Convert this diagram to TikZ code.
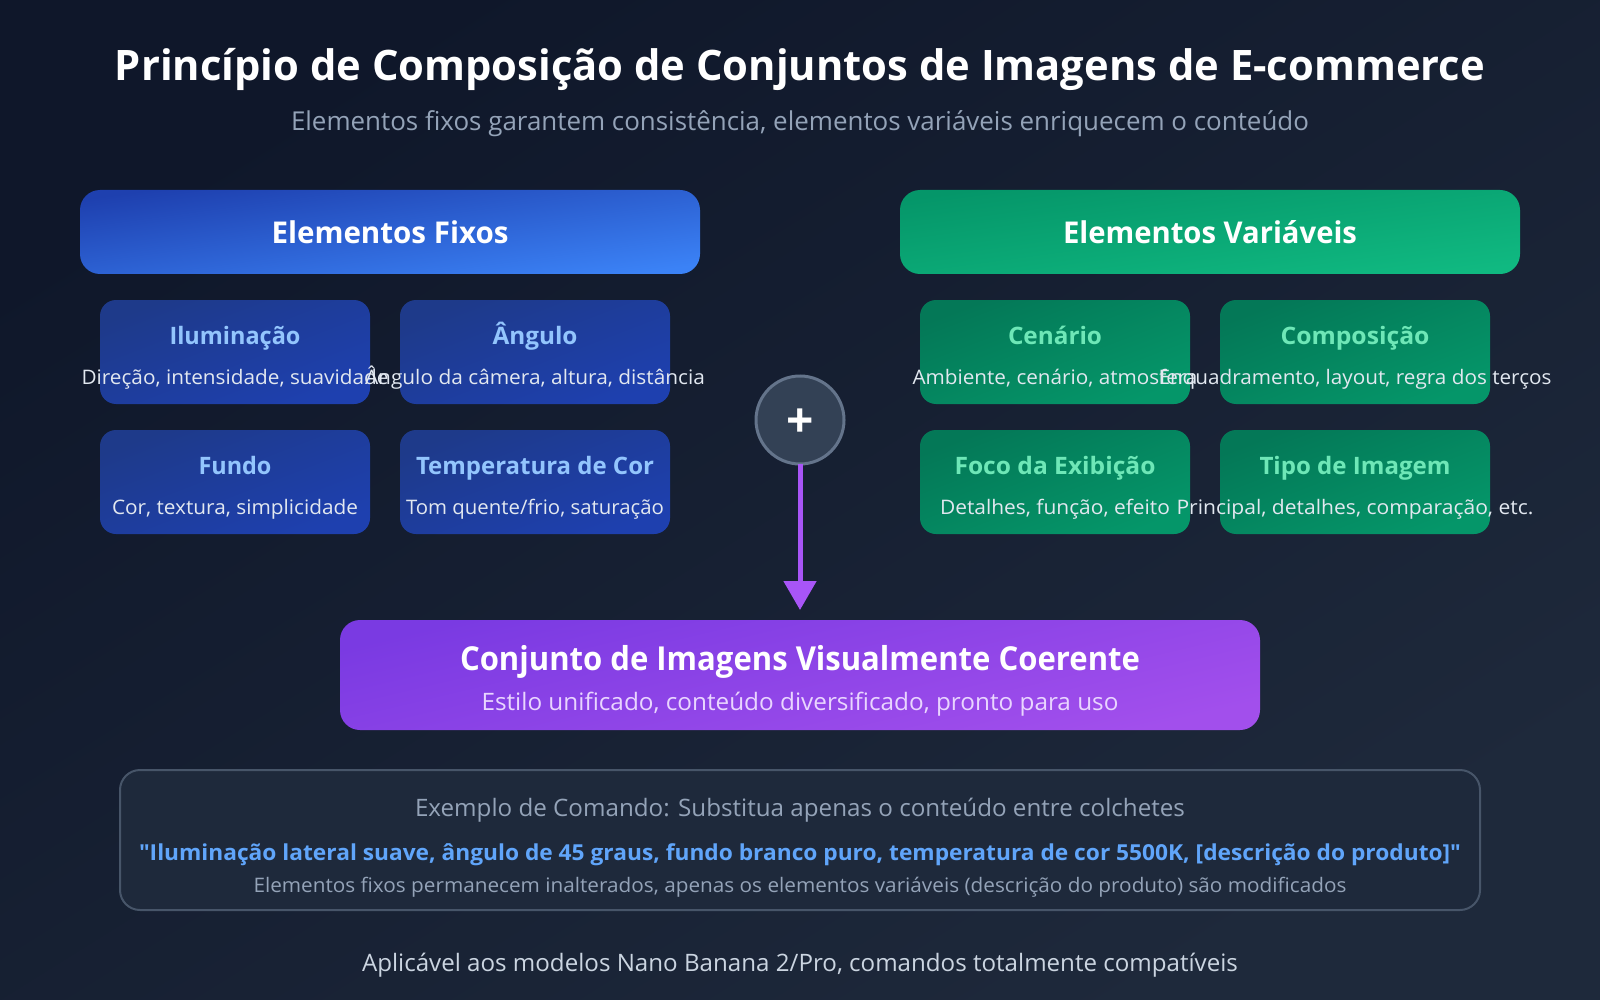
\documentclass[tikz,border=0pt]{standalone}
\usepackage{fontspec}
\setmainfont[Ligatures=TeXOff]{Open Sans}
\usetikzlibrary{arrows.meta}
\definecolor{bgA}{HTML}{0F172A}\definecolor{bgB}{HTML}{1E293B}
\definecolor{blA}{HTML}{1E40AF}\definecolor{blB}{HTML}{3B82F6}
\definecolor{grA}{HTML}{059669}\definecolor{grB}{HTML}{10B981}
\definecolor{puA}{HTML}{7A3AE2}\definecolor{puB}{HTML}{A24FEC}
\definecolor{sbA}{HTML}{1E3A8A}\definecolor{sbB}{HTML}{1E40AF}
\definecolor{sgA}{HTML}{047857}\definecolor{sgB}{HTML}{059669}
\definecolor{slate}{HTML}{94A3B8}\definecolor{tlB}{HTML}{93C5FD}\definecolor{tlG}{HTML}{6EE7B7}
\definecolor{desc}{HTML}{E2E8F0}\definecolor{foot}{HTML}{CBD5E1}\definecolor{code}{HTML}{60A5FA}
\definecolor{pdesc}{HTML}{E9D5FF}\definecolor{cardb}{HTML}{475569}\definecolor{plusf}{HTML}{334155}\definecolor{pluss}{HTML}{64748B}
\definecolor{flowc}{HTML}{A855F7}
% \fit{width in px}{text}: stretches the text horizontally to the measured width
\newsavebox\fitbox
\newcommand{\fit}[2]{\sbox\fitbox{#2}\pgfmathsetmacro\fitr{(#1)*0.5/(\wd\fitbox/1pt)}\scalebox{\fitr}[1]{\usebox\fitbox}}
\tikzset{
 x=0.5pt,y=-0.5pt,
 txt/.style={inner sep=0pt,outer sep=0pt,anchor=base,text=white},
 box/.style={inner sep=0pt,outer sep=0pt,draw=none},
 hdrblue/.style={box,rounded corners=10pt,minimum width=310pt,minimum height=42pt,top color=blA,bottom color=blB,shading angle=7.7},
 hdrgreen/.style={box,rounded corners=10pt,minimum width=310pt,minimum height=42pt,top color=grA,bottom color=grB,shading angle=7.7},
 subblue/.style={box,rounded corners=8pt,minimum width=135pt,minimum height=52pt,top color=sbA,bottom color=sbB,shading angle=21},
 subgreen/.style={box,rounded corners=8pt,minimum width=135pt,minimum height=52pt,top color=sgA,bottom color=sgB,shading angle=21},
 result/.style={box,rounded corners=10pt,minimum width=460pt,minimum height=55pt,top color=puA,bottom color=puB,shading angle=13.4},
 card/.style={inner sep=0pt,outer sep=0pt,draw=cardb,line width=1pt,rounded corners=10pt,fill=bgB,minimum width=680pt,minimum height=70pt},
 plusnode/.style={circle,inner sep=0pt,outer sep=0pt,minimum size=44pt,draw=pluss,line width=1.5pt,fill=plusf},
 flow/.style={draw=flowc,line width=2.5pt,-{Triangle[length=14.5pt,width=16pt]}},
 ttl/.style={txt,font=\fontsize{21}{21}\selectfont\bfseries},
 st/.style={txt,font=\fontsize{13}{13}\selectfont,text=slate},
 hd/.style={txt,font=\fontsize{15}{15}\selectfont\bfseries},
 sb/.style={txt,font=\fontsize{12}{12}\selectfont\bfseries,text=tlB},
 sg/.style={txt,font=\fontsize{12}{12}\selectfont\bfseries,text=tlG},
 ds/.style={txt,font=\fontsize{10}{10}\selectfont,text=desc},
}
\begin{document}
\begin{tikzpicture}
\path[use as bounding box,top color=bgA,bottom color=bgB,shading angle=32] (0,0) rectangle (1600,1000);
\node[ttl] (title) at (800,81) {\fit{1370}{Princípio de Composição de Conjuntos de Imagens de E-commerce}};
\node[st] (subtitle) at (800,131) {\fit{1018}{Elementos fixos garantem consistência, elementos variáveis enriquecem o conteúdo}};

\node[hdrblue] (fixed) at (390,232) {};
\node[hd] (fixedT) at (390,244) {\fit{237}{Elementos Fixos}};
\node[hdrgreen] (vari) at (1210,232) {};
\node[hd] (variT) at (1210,244) {\fit{294}{Elementos Variáveis}};

\node[subblue] (a1) at (235,352) {};
\node[subblue] (a2) at (535,352) {};
\node[subblue] (a3) at (235,482) {};
\node[subblue] (a4) at (535,482) {};
\node[subgreen] (b1) at (1055,352) {};
\node[subgreen] (b2) at (1355,352) {};
\node[subgreen] (b3) at (1055,482) {};
\node[subgreen] (b4) at (1355,482) {};

\node[sb] (a1T) at (235,344) {\fit{131}{Iluminação}};
\node[ds] (a1D) at (235,384) {\fit{307}{Direção, intensidade, suavidade}};
\node[sb] (a2T) at (535,344) {\fit{85}{Ângulo}};
\node[ds] (a2D) at (535,384) {\fit{340}{Ângulo da câmera, altura, distância}};
\node[sb] (a3T) at (235,474) {\fit{73}{Fundo}};
\node[ds] (a3D) at (235,514) {\fit{246}{Cor, textura, simplicidade}};
\node[sb] (a4T) at (535,474) {\fit{238}{Temperatura de Cor}};
\node[ds] (a4D) at (535,514) {\fit{258}{Tom quente/frio, saturação}};

\node[sg] (b1T) at (1055,344) {\fit{94}{Cenário}};
\node[ds] (b1D) at (1055,384) {\fit{285}{Ambiente, cenário, atmosfera}};
\node[sg] (b2T) at (1355,344) {\fit{149}{Composição}};
\node[ds] (b2D) at (1355,384) {\fit{393}{Enquadramento, layout, regra dos terços}};
\node[sg] (b3T) at (1055,474) {\fit{201}{Foco da Exibição}};
\node[ds] (b3D) at (1055,514) {\fit{230}{Detalhes, função, efeito}};
\node[sg] (b4T) at (1355,474) {\fit{191}{Tipo de Imagem}};
\node[ds] (b4D) at (1355,514) {\fit{357}{Principal, detalhes, comparação, etc.}};

\node[result] (res) at (800,675) {};
\node[txt,font=\fontsize{16.5}{16.5}\selectfont\bfseries] (resT) at (800,670) {\fit{680}{Conjunto de Imagens Visualmente Coerente}};
\node[txt,font=\fontsize{12}{12}\selectfont,text=pdesc] (resD) at (800,710) {\fit{637}{Estilo unificado, conteúdo diversificado, pronto para uso}};

\coordinate (tip) at (800,610);
\node[plusnode] (plus) at (800,420) {};
\node[txt,font=\fontsize{24}{24}\selectfont\bfseries] (plusT) at (800,437) {+};
\draw[flow] (plus) -- (tip);

\node[card] (ex) at (800,840) {};
\node[txt,font=\fontsize{12}{12}\selectfont,text=slate] (exT) at (800,816) {\fit{770}{Exemplo de Comando: Substitua apenas o conteúdo entre colchetes}};
\node[txt,font=\fontsize{11}{11}\selectfont\bfseries,text=code] (exC) at (800,860) {\fit{1322}{"Iluminação lateral suave, ângulo de 45 graus, fundo branco puro, temperatura de cor 5500K, [descrição do produto]"}};
\node[txt,font=\fontsize{10}{10}\selectfont,text=slate] (exN) at (800,892) {\fit{1093}{Elementos fixos permanecem inalterados, apenas os elementos variáveis (descrição do produto) são modificados}};
\node[txt,font=\fontsize{12}{12}\selectfont,text=foot] (foot) at (800,971) {\fit{876}{Aplicável aos modelos Nano Banana 2/Pro, comandos totalmente compatíveis}};
\end{tikzpicture}
\end{document}
